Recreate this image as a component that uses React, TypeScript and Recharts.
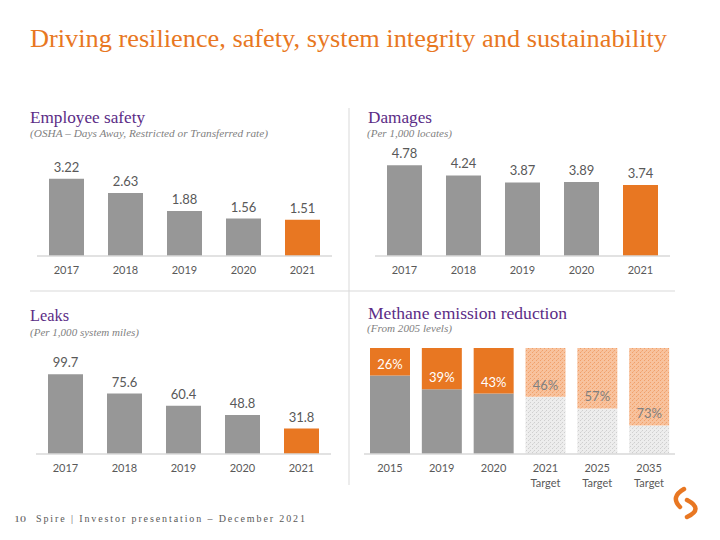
import React from 'react';
import { BarChart, Bar, XAxis, YAxis, Cell, LabelList } from 'recharts';

const YEARS = ['2017', '2018', '2019', '2020', '2021'];
const SAFETY = [3.22, 2.63, 1.88, 1.56, 1.51];
const DAMAGES = [4.78, 4.24, 3.87, 3.89, 3.74];
const LEAKS = [99.7, 75.6, 60.4, 48.8, 31.8];

const METHANE_YEARS = ['2015', '2019', '2020', '2021 Target', '2025 Target', '2035 Target'];
const METHANE_REDUCTION = [26, 39, 43, 46, 57, 73];
const METHANE_REMAINING = [74, 61, 57, 54, 43, 27];

const ORANGE = '#E87722';
const GRAY = '#979797';
const PURPLE = '#5B2C86';
const TEXT = '#595959';
const LINE = '#D9D9D9';
const SERIF = '"Liberation Serif", "DejaVu Serif", serif';
const SANS = 'Lato, "Open Sans", sans-serif';

const toRows = (values: number[]) => YEARS.map((year, i) => ({ year, value: values[i] }));

function YearTick({ x, y, payload }: any) {
  const parts = String(payload.value).split(' ');
  return (
    <text x={x} y={y} textAnchor="middle" fill={TEXT} fontSize={11} fontFamily={SANS}>
      {parts.map((p, i) => (
        <tspan key={i} x={x} dy={i === 0 ? 18 : 15}>{p}</tspan>
      ))}
    </text>
  );
}

interface PanelProps { values: number[]; max: number; left: number; top: number; plotHeight: number; }

function YearBars({ values, max, left, top, plotHeight }: PanelProps) {
  const data = toRows(values);
  return (
    <div style={{ position: 'absolute', left, top }}>
      <BarChart width={295} height={plotHeight + 30} data={data} margin={{ top: 0, right: 0, left: 0, bottom: 0 }} barCategoryGap={12}>
        <XAxis dataKey="year" height={30} tickSize={0} tickMargin={0} tickLine={false} axisLine={{ stroke: LINE, strokeWidth: 1.5 }} tick={<YearTick />} interval={0} />
        <YAxis hide domain={[0, max]} />
        <Bar dataKey="value" isAnimationActive={false}>
          {data.map((_, i) => <Cell key={`c-${i}`} fill={i === data.length - 1 ? ORANGE : GRAY} />)}
          <LabelList dataKey="value" position="top" offset={7} fill={TEXT} style={{ fontSize: 13, fontFamily: SANS, fill: TEXT }} />
        </Bar>
      </BarChart>
    </div>
  );
}

function MethaneLabel({ x, y, width, height, value }: any) {
  const idx = METHANE_REDUCTION.indexOf(Number(value));
  const color = idx >= 0 && idx < 3 ? '#FFFFFF' : '#7F7F7F';
  return (
    <text x={Number(x) + Number(width) / 2} y={Number(y) + Number(height) - 7} textAnchor="middle" fill={color} fontSize={13} fontFamily={SANS}>
      {value}%
    </text>
  );
}

function MethaneBars() {
  const data = METHANE_YEARS.map((year, i) => ({ year, remaining: METHANE_REMAINING[i], reduction: METHANE_REDUCTION[i] }));
  return (
    <div style={{ position: 'absolute', left: 364, top: 348 }}>
      <BarChart width={311} height={146} data={data} margin={{ top: 0, right: 0, left: 0, bottom: 0 }} barCategoryGap={6}>
        <XAxis dataKey="year" height={40} tickSize={0} tickMargin={0} tickLine={false} axisLine={{ stroke: LINE, strokeWidth: 1.5 }} tick={<YearTick />} interval={0} />
        <YAxis hide domain={[0, 100]} />
        <Bar dataKey="remaining" stackId="m" isAnimationActive={false}>
          {data.map((_, i) => <Cell key={`g-${i}`} fill={i < 3 ? GRAY : 'url(#hatchGray)'} />)}
        </Bar>
        <Bar dataKey="reduction" stackId="m" isAnimationActive={false}>
          {data.map((_, i) => <Cell key={`o-${i}`} fill={i < 3 ? ORANGE : 'url(#hatchOrange)'} />)}
          <LabelList dataKey="reduction" content={<MethaneLabel />} />
        </Bar>
      </BarChart>
    </div>
  );
}

function Backdrop() {
  return (
    <svg width={720} height={540} style={{ position: 'absolute', left: 0, top: 0 }}>
      <defs>
        <pattern id="hatchGray" width={4} height={4} patternUnits="userSpaceOnUse">
          <rect width={4} height={4} fill="#EDEDED" />
          <rect x={0} y={0} width={1} height={1} fill="#CFCFCF" />
          <rect x={2} y={2} width={1} height={1} fill="#CFCFCF" />
          <rect x={1} y={3} width={1} height={1} fill="#DCDCDC" />
        </pattern>
        <pattern id="hatchOrange" width={4} height={4} patternUnits="userSpaceOnUse">
          <rect width={4} height={4} fill="#F8C29D" />
          <rect x={0} y={0} width={1} height={1} fill="#F0A06A" />
          <rect x={2} y={2} width={1} height={1} fill="#F0A06A" />
          <rect x={1} y={3} width={1} height={1} fill="#F3AE80" />
        </pattern>
      </defs>
      <text x={30} y={47} fill={ORANGE} fontSize={26} fontFamily={SERIF} textLength={637} lengthAdjust="spacingAndGlyphs">
        Driving resilience, safety, system integrity and sustainability
      </text>

      <line x1={349} y1={108} x2={349} y2={485} stroke={LINE} strokeWidth={1} />
      <line x1={30} y1={291} x2={675} y2={291} stroke={LINE} strokeWidth={1} />

      <text x={30} y={123} fill={PURPLE} fontSize={17} fontFamily={SERIF} textLength={115} lengthAdjust="spacingAndGlyphs">Employee safety</text>
      <text x={30} y={137} fill="#7F7F7F" fontSize={10} fontStyle="italic" fontFamily={SERIF} textLength={238} lengthAdjust="spacingAndGlyphs">(OSHA – Days Away, Restricted or Transferred rate)</text>

      <text x={368} y={123} fill={PURPLE} fontSize={17} fontFamily={SERIF} textLength={64} lengthAdjust="spacingAndGlyphs">Damages</text>
      <text x={367} y={137} fill="#7F7F7F" fontSize={10} fontStyle="italic" fontFamily={SERIF} textLength={85} lengthAdjust="spacingAndGlyphs">(Per 1,000 locates)</text>

      <text x={30} y={321} fill={PURPLE} fontSize={17} fontFamily={SERIF} textLength={39} lengthAdjust="spacingAndGlyphs">Leaks</text>
      <text x={30} y={336} fill="#7F7F7F" fontSize={10} fontStyle="italic" fontFamily={SERIF} textLength={109} lengthAdjust="spacingAndGlyphs">(Per 1,000 system miles)</text>

      <text x={368} y={319} fill={PURPLE} fontSize={17} fontFamily={SERIF} textLength={199} lengthAdjust="spacingAndGlyphs">Methane emission reduction</text>
      <text x={367} y={332} fill="#7F7F7F" fontSize={10} fontStyle="italic" fontFamily={SERIF} textLength={85} lengthAdjust="spacingAndGlyphs">(From 2005 levels)</text>

      <text x={14} y={522} fill={TEXT} fontSize={9} fontFamily={SERIF} textLength={12} lengthAdjust="spacingAndGlyphs">10</text>
      <text x={36} y={522} fill={TEXT} fontSize={10} fontFamily={SERIF} textLength={269} lengthAdjust="spacing">Spire | Investor presentation – December 2021</text>

      <path d="M 684 489 Q 670 497 680 507" fill="none" stroke={ORANGE} strokeWidth={4.5} strokeLinecap="round" />
      <path d="M 687 500 Q 704 509 687 517" fill="none" stroke={ORANGE} strokeWidth={4.5} strokeLinecap="round" />
    </svg>
  );
}

export default function App() {
  return (
    <div style={{ position: 'absolute', left: 0, top: 0, width: 720, height: 540, background: '#FFFFFF', overflow: 'hidden' }}>
      <Backdrop />
      <YearBars values={SAFETY} max={5} left={37} top={136} plotHeight={120} />
      <YearBars values={DAMAGES} max={6} left={375} top={142} plotHeight={114} />
      <YearBars values={LEAKS} max={125} left={36} top={354} plotHeight={100} />
      <MethaneBars />
    </div>
  );
}
